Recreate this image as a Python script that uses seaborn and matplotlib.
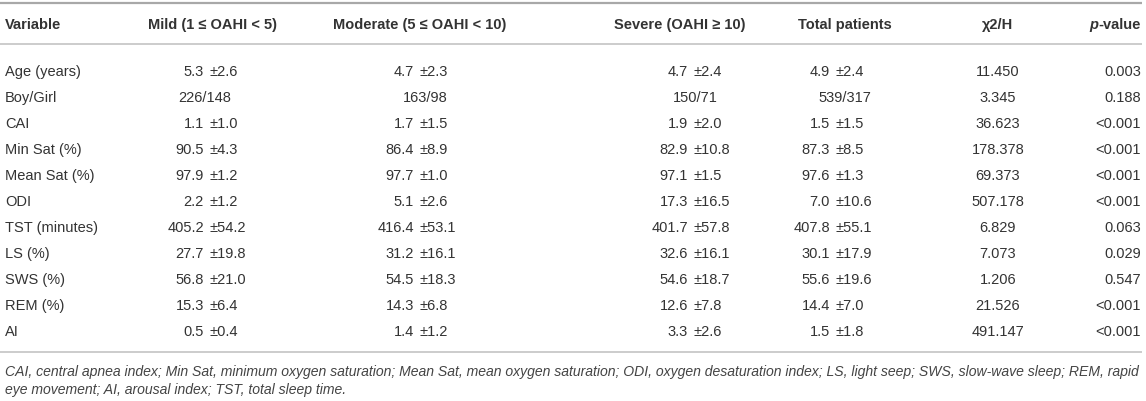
import matplotlib
matplotlib.use("Agg")
import matplotlib.pyplot as plt
import seaborn as sns

# --- table data ---
variables = ["Age (years)", "Boy/Girl", "CAI", "Min Sat (%)", "Mean Sat (%)", "ODI",
             "TST (minutes)", "LS (%)", "SWS (%)", "REM (%)", "AI"]

mild_mean = [5.3, None, 1.1, 90.5, 97.9, 2.2, 405.2, 27.7, 56.8, 15.3, 0.5]
mild_sd = [2.6, None, 1.0, 4.3, 1.2, 1.2, 54.2, 19.8, 21.0, 6.4, 0.4]
moderate_mean = [4.7, None, 1.7, 86.4, 97.7, 5.1, 416.4, 31.2, 54.5, 14.3, 1.4]
moderate_sd = [2.3, None, 1.5, 8.9, 1.0, 2.6, 53.1, 16.1, 18.3, 6.8, 1.2]
severe_mean = [4.7, None, 1.9, 82.9, 97.1, 17.3, 401.7, 32.6, 54.6, 12.6, 3.3]
severe_sd = [2.4, None, 2.0, 10.8, 1.5, 16.5, 57.8, 16.1, 18.7, 7.8, 2.6]
total_mean = [4.9, None, 1.5, 87.3, 97.6, 7.0, 407.8, 30.1, 55.6, 14.4, 1.5]
total_sd = [2.4, None, 1.5, 8.5, 1.3, 10.6, 55.1, 17.9, 19.6, 7.0, 1.8]

boys = [226, 163, 150, 539]
girls = [148, 98, 71, 317]

chi2_h = ["11.450", "3.345", "36.623", "178.378", "69.373", "507.178",
          "6.829", "7.073", "1.206", "21.526", "491.147"]
p_values = ["0.003", "0.188", "<0.001", "<0.001", "<0.001", "<0.001",
            "0.063", "0.029", "0.547", "<0.001", "<0.001"]

headers = ["Variable", "Mild (1 \u2264 OAHI < 5)", "Moderate (5 \u2264 OAHI < 10)",
           "Severe (OAHI \u2265 10)", "Total patients", "\u03c72/H"]

footnote = ("CAI, central apnea index; Min Sat, minimum oxygen saturation; Mean Sat, mean oxygen "
            "saturation; ODI, oxygen desaturation index; LS, light seep; SWS, slow-wave sleep; REM, rapid\n"
            "eye movement; AI, arousal index; TST, total sleep time.")

sns.set_theme(style="white")
plt.rcParams["font.family"] = ["Liberation Sans", "DejaVu Sans"]

W, H = 1146, 402
fig = plt.figure(figsize=(W / 100, H / 100), dpi=100)
ax = fig.add_axes([0, 0, 1, 1])
ax.set_xlim(0, W)
ax.set_ylim(H, 0)
ax.axis("off")

txt = "#333333"
fs = 10.5

# layout (pixels)
header_y = 25
row0_y = 72
row_step = 26
pm_x = [210, 420, 694, 836]          # where the "±" of each group column starts
group_center = [205, 425, 695, 845]  # centre for Boy/Girl counts
head_center = [212, 420, 680, 845]
chi_x = 998
p_right = 1141

# rules
ax.plot([0, 1142], [4, 4], color="#a8a8a8", lw=1.6, solid_capstyle="butt")
ax.plot([0, 1142], [45, 45], color="#c4c4c4", lw=1.2, solid_capstyle="butt")
ax.plot([0, 1142], [353, 353], color="#c4c4c4", lw=1.2, solid_capstyle="butt")

# header
ax.text(5, header_y, headers[0], ha="left", va="center", fontsize=fs, weight="bold", color=txt)
for x, h in zip(head_center, headers[1:5]):
    ax.text(x, header_y, h, ha="center", va="center", fontsize=fs, weight="bold", color=txt)
ax.text(chi_x, header_y, headers[5], ha="center", va="center", fontsize=fs, weight="bold", color=txt)
tv = ax.text(p_right, header_y, "-value", ha="right", va="center", fontsize=fs, weight="bold", color=txt)
fig.canvas.draw()
bb = tv.get_window_extent(renderer=fig.canvas.get_renderer())
ax.text(bb.x0, header_y, "p", ha="right", va="center", fontsize=fs, weight="bold",
        style="italic", color=txt)

# body
groups = [(mild_mean, mild_sd), (moderate_mean, moderate_sd),
          (severe_mean, severe_sd), (total_mean, total_sd)]
for i, var in enumerate(variables):
    y = row0_y + i * row_step
    ax.text(5, y, var, ha="left", va="center", fontsize=fs, color=txt)
    for g, (means, sds) in enumerate(groups):
        if means[i] is None:
            ax.text(group_center[g], y, f"{boys[g]}/{girls[g]}", ha="center", va="center",
                    fontsize=fs, color=txt)
        else:
            ax.text(pm_x[g] - 6, y, f"{means[i]:.1f}", ha="right", va="center",
                    fontsize=fs, color=txt)
            ax.text(pm_x[g], y, f"\u00b1{sds[i]:.1f}", ha="left", va="center",
                    fontsize=fs, color=txt)
    ax.text(chi_x, y, chi2_h[i], ha="center", va="center", fontsize=fs, color=txt)
    ax.text(p_right, y, p_values[i], ha="right", va="center", fontsize=fs, color=txt)

ax.text(5, 381, footnote, ha="left", va="center", fontsize=10.1, style="italic",
        color="#444444", linespacing=1.45)

fig.savefig("out.png", dpi=100)
